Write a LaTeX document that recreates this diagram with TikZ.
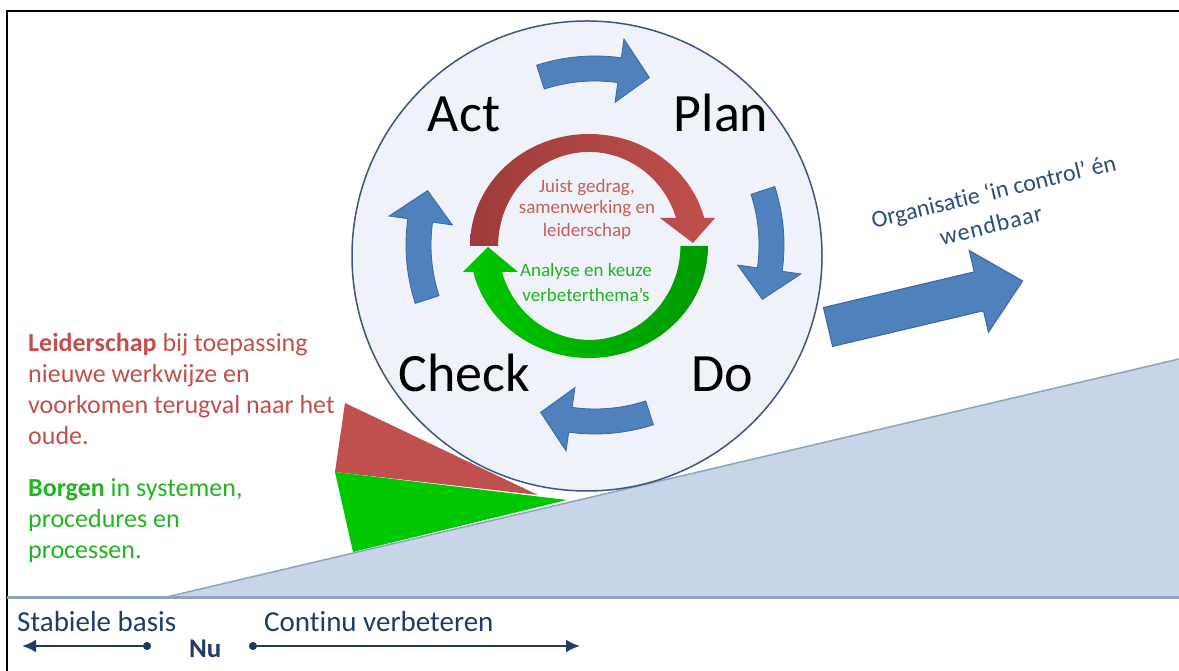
\documentclass[tikz,border=0pt]{standalone}
\usepackage{fontspec}
\setmainfont{Carlito}[Ligatures=NoCommon]
\usetikzlibrary{arrows.meta}

\definecolor{circfill}{HTML}{EFF3F9}
\definecolor{circline}{HTML}{3B5582}
\definecolor{pdcablue}{HTML}{4F81BD}
\definecolor{pdcaedge}{HTML}{3A679F}
\definecolor{slopefill}{HTML}{C8D5E8}
\definecolor{slopeline}{HTML}{8FA3BF}
\definecolor{leadred}{HTML}{C0504D}
\definecolor{darkred}{HTML}{9E3B3B}
\definecolor{innerred}{HTML}{C45F5C}
\definecolor{borggreen}{HTML}{00C800}
\definecolor{darkgreen}{HTML}{009A00}
\definecolor{textgreen}{HTML}{22B422}
\definecolor{navy}{HTML}{1F3B68}
\definecolor{titleblue}{HTML}{2B4C7E}

\tikzstyle{phase} = [font=\fontsize{54}{60}\selectfont, text=black, inner sep=0pt, anchor=base]
\tikzstyle{cyclearrow} = [fill=pdcablue, draw=pdcaedge, line width=0.8pt]
\tikzstyle{innertext} = [font=\fontsize{19}{22}\selectfont, inner sep=0pt, anchor=base]
\tikzstyle{sidetext} = [font=\fontsize{26}{31}\selectfont, inner sep=0pt, anchor=base west]
\tikzstyle{axistext} = [font=\fontsize{29}{32}\selectfont, text=navy, inner sep=0pt, anchor=base west]
\tikzstyle{goaltext} = [font=\fontsize{24}{30}\selectfont, text=titleblue, inner sep=0pt, rotate=13.5]
\tikzstyle{timeline} = [navy, line width=2.5pt]

\begin{document}
\begin{tikzpicture}[x=1pt, y=1pt]
\useasboundingbox (0,0) rectangle (1179,671);
% frame
\draw[line width=2.5pt] (7,0) -- (7,660) -- (1179,660);

% slope
\coordinate (nu) at (162,73);
\fill[slopefill] (nu) -- (1179,312) -- (1179,73) -- cycle;
\draw[slopeline, line width=1.5pt] (nu) -- (1179,312);
\draw[slopeline, line width=3pt] (7,73) -- (1179,73);

% wedges
\fill[leadred] (345,268) -- (335,199) -- (538,176) -- cycle;
\fill[borggreen] (335,199) -- (353,119) -- (567,171) -- cycle;

% circle
\draw[circline, fill=circfill, line width=1.5pt] (587,415) circle[radius=235];

% PDCA arrows
\begin{scope}[shift={(595,426)}]
\filldraw[cyclearrow] (108:189) arc[start angle=108, end angle=82, radius=189] -- (82:208) -- (72:176) -- (82:144) -- (82:164) arc[start angle=82, end angle=108, radius=164] -- cycle;
\filldraw[cyclearrow] (18:189) arc[start angle=18, end angle=-8, radius=189] -- (-8:208) -- (-18:176) -- (-8:144) -- (-8:164) arc[start angle=-8, end angle=18, radius=164] -- cycle;
\filldraw[cyclearrow] (-72:189) arc[start angle=-72, end angle=-98, radius=189] -- (-98:208) -- (-108:176) -- (-98:144) -- (-98:164) arc[start angle=-98, end angle=-72, radius=164] -- cycle;
\filldraw[cyclearrow] (198:189) arc[start angle=198, end angle=172, radius=189] -- (172:208) -- (162:176) -- (172:144) -- (172:164) arc[start angle=172, end angle=198, radius=164] -- cycle;
\end{scope}

% inner arrows
\shade[left color=darkred, right color=leadred] (470,425) arc[start angle=180, end angle=14.5, x radius=119, y radius=112] -- (715,453) -- (693,428) -- (660,453) -- (676,453) arc[start angle=17.3, end angle=180, x radius=91, y radius=94] -- cycle;
\shade[left color=borggreen, right color=darkgreen] (708,425) arc[start angle=0, end angle=-166.6, x radius=119, y radius=112] -- (463,399) -- (488,424) -- (518,399) -- (502,399) arc[start angle=-163.9, end angle=0, x radius=91, y radius=94] -- cycle;

% big arrow
\begin{scope}[shift={(828,344)}, rotate=13.3]
\filldraw[fill=pdcablue, draw=pdcaedge, line width=1pt] (0,-20) -- (155,-20) -- (155,-42) -- (200,0) -- (155,42) -- (155,20) -- (0,20) -- cycle;
\end{scope}

\node (act) [phase] at (464,539) {Act};
\node (plan) [phase] at (721,539) {Plan};
\node (check) [phase] at (464,279) {Check};
\node (do) [phase] at (722,279) {Do};

\node (juist) [innertext, text=innerred] at (587,478) {Juist gedrag,};
\node (samen) [innertext, text=innerred] at (587,457) {samenwerking en};
\node (leider) [innertext, text=innerred] at (587,434) {leiderschap};
\node (analyse) [innertext, text=textgreen] at (586,394) {Analyse en keuze};
\node (verbeter) [innertext, text=textgreen] at (586,369) {verbeterthema’s};

\node (lead1) [sidetext, text=leadred] at (28,319) {\textbf{Leiderschap} bij toepassing};
\node (lead2) [sidetext, text=leadred] at (28,288) {nieuwe werkwijze en};
\node (lead3) [sidetext, text=leadred] at (28,257) {voorkomen terugval naar het};
\node (lead4) [sidetext, text=leadred] at (28,226) {oude.};
\node (borg1) [sidetext, text=textgreen] at (28,174) {\textbf{Borgen} in systemen,};
\node (borg2) [sidetext, text=textgreen] at (28,143) {procedures en};
\node (borg3) [sidetext, text=textgreen] at (28,112) {processen.};

\node (goal1) [goaltext] at (994,478) {Organisatie ‘in control’ én};
\node (goal2) [goaltext] at (991,446) {\addfontfeature{LetterSpace=4}wendbaar};

% time axis
\node (basis) [axistext] at (17,39) {Stabiele basis};
\node (verbeteren) [axistext] at (264,39) {Continu verbeteren};
\node (nulabel) [axistext, font=\fontsize{27}{32}\selectfont\bfseries] at (189,13) {Nu};
\coordinate (basisdot) at (151,25);
\coordinate (basistip) at (22,25);
\coordinate (verbdot) at (249,25);
\coordinate (verbtip) at (580,25);
\draw[timeline, {Circle[length=8pt]}-{Latex[length=14pt,width=13pt]}] (basisdot) -- (basistip);
\draw[timeline, {Circle[length=8pt]}-{Latex[length=14pt,width=13pt]}] (verbdot) -- (verbtip);
\end{tikzpicture}
\end{document}
